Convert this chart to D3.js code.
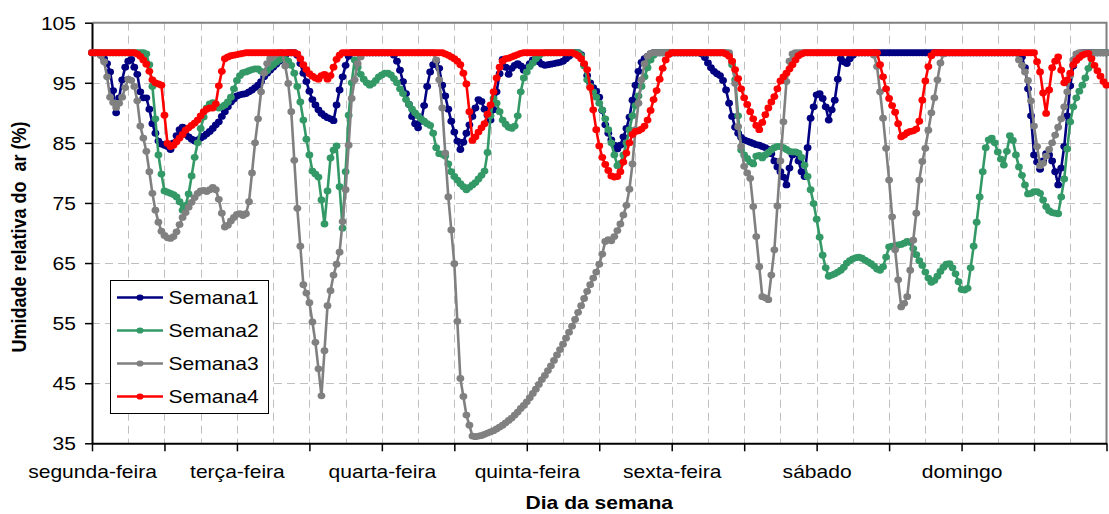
<!DOCTYPE html>
<html>
<head>
<meta charset="utf-8">
<script src="https://cdn.jsdelivr.net/npm/d3@7"></script>
<style>
  html, body { margin: 0; padding: 0; background: #ffffff; }
  svg { display: block; }
</style>
</head>
<body>
<svg id="chart" width="1109" height="514"></svg>
<script>
// Day labels (one every 48 half-hour readings) and value ticks
const days = ["segunda-feira", "terça-feira", "quarta-feira", "quinta-feira", "sexta-feira", "sábado", "domingo"];
const yTicks = [35, 45, 55, 65, 75, 85, 95, 105];
const seriesNames = ["Semana1", "Semana2", "Semana3", "Semana4"];
const seriesColors = ["#000080", "#339966", "#808080", "#ff0000"];
const yTitle = "Umidade relativa do  ar (%)";
const xTitle = "Dia da semana";

// Relative humidity (%), half-hourly readings Monday 00:00 .. next Monday 00:00
const semana1 = [
  100, 100, 100, 99.6, 99, 98.2, 96.8, 93.7, 90, 92.5, 95.5, 97.6,
  98.6, 98.9, 97.6, 96.4, 93.5, 92.5, 92.5, 90.6, 88.2, 86.6, 85.3, 84.8,
  84.6, 84.4, 83.9, 85, 86.2, 87.2, 87.6, 86.4, 86, 85.6, 85.3, 85.5,
  85.8, 86.1, 86.5, 86.9, 87.4, 88, 88.5, 89.4, 90.2, 91, 91.8, 92.3,
  92.8, 93, 93.1, 93.2, 93.5, 93.8, 94.2, 94.6, 95.2, 96, 96.6, 97.1,
  97.6, 98.1, 98.6, 99, 99.6, 100, 100, 100, 99.6, 98.2, 96.6, 95.2,
  93.6, 92.2, 91.3, 90.5, 89.9, 89.5, 89.2, 89, 88.7, 91.3, 93.8, 96,
  97.9, 99.4, 100, 100, 100, 100, 100, 100, 100, 100, 100, 100,
  100, 100, 100, 100, 99.6, 98.6, 97.1, 95.2, 93.2, 91.4, 89.4, 88.2,
  87.5, 88.6, 91.2, 94.4, 96.8, 98, 98.6, 97.4, 94.6, 92.8, 90.6, 88.6,
  86.8, 85.3, 83.9, 85.1, 86.6, 88, 89.4, 90.8, 92.2, 91.9, 90.6, 89.6,
  88.8, 90.5, 93.5, 96.5, 98.9, 97.6, 96.4, 97.4, 97.9, 98.2, 97.8, 97.1,
  97.5, 98.2, 98.8, 98.8, 98.5, 98.1, 97.9, 98, 98.1, 98.2, 98.3, 98.4,
  98.6, 99, 99.4, 99.8, 100, 100, 99.7, 98, 96.2, 95, 94.2, 93.6,
  92.6, 90.4, 88, 86.6, 85.5, 84.6, 84, 84.6, 86, 87.4, 89.3, 92.1,
  94.6, 96.9, 98.4, 99, 99.4, 99.8, 100, 100, 100, 100, 100, 100,
  100, 100, 100, 100, 100, 100, 100, 100, 100, 100, 99.8, 99.2,
  98.3, 97.5, 96.9, 96.5, 96.2, 95.4, 93.8, 91.6, 89.4, 87.6, 86.6, 85.9,
  85.5, 85.3, 85.1, 84.9, 84.7, 84.6, 84.4, 84.2, 83.9, 83.2, 82, 81,
  80.2, 79.3, 78, 80.8, 83, 83.4, 82, 80.2, 79.4, 84.2, 89.1, 91,
  93, 93.2, 92.4, 91, 88.8, 90.5, 92.1, 95.6, 99, 98.5, 98.2, 99,
  99.6, 100, 100, 100, 100, 100, 100, 100, 100, 100, 100, 100,
  100, 100, 100, 100, 100, 100, 100, 100, 100, 100, 100, 100,
  100, 100, 100, 100, 100, 100, 100, 100, 100, 100, 100, 100,
  100, 100, 100, 100, 100, 100, 100, 100, 100, 100, 100, 100,
  100, 100, 100, 100, 100, 100, 100, 100, 99.3, 97.5, 94, 89.5,
  83, 81.8, 80.6, 82, 83.2, 83, 82, 80.2, 78, 80.8, 84.4, 89.5,
  94.5, 97.8, 99.2, 99.8, 100, 100, 100, 100, 100, 100, 100, 100, 100
];

const semana2 = [
  100, 100, 100, 100, 100, 100, 100, 100, 100, 100, 100, 100,
  100, 100, 100, 100, 100, 100, 99.8, 98, 94.4, 89, 83, 79.8,
  77, 76.8, 76.6, 76.4, 76, 75.2, 73.8, 74.6, 76.5, 79.5, 82.6, 85,
  87.4, 89.3, 90.8, 91.5, 91.7, 91.2, 90.8, 91, 91.3, 91.8, 92.6, 94,
  95.4, 96.2, 96.7, 96.8, 97, 97.2, 97.3, 97.3, 96.9, 96.7, 97, 97.6,
  98, 98.4, 98.8, 99, 98.9, 98.6, 97.9, 96.6, 94.4, 91.8, 88.8, 85.6,
  83, 80.3, 79.8, 79.3, 75.5, 71.5, 77, 82.5, 83.8, 84.5, 77.7, 70.8,
  80.2, 89.6, 95, 98.8, 97.6, 96.4, 95.6, 95, 94.6, 94.9, 95.4, 96,
  96.3, 96.6, 96.6, 96.3, 95.7, 95, 94, 93.2, 92.2, 91.4, 90.6, 90,
  89.5, 89, 88.6, 88.2, 87.9, 86.6, 84.2, 83.2, 83.1, 82.8, 81.5, 80.2,
  79.4, 78.8, 78.2, 77.7, 77.2, 77.6, 78, 78.4, 79, 79.6, 80.3, 83.4,
  89.5, 92.4, 91.6, 90.2, 88.8, 88.1, 87.6, 87.4, 87.8, 89.5, 93.5, 95.8,
  96.8, 97.7, 98.3, 99, 99.5, 99.9, 100, 100, 100, 100, 100, 100,
  100, 100, 100, 100, 100, 100, 99.5, 97.8, 95.5, 94.4, 93.5, 92.6,
  91.6, 90.5, 89, 87.2, 85, 83, 81.2, 81.6, 83, 85, 87.2, 89.5,
  91.2, 92.8, 94.4, 96, 97.5, 98.8, 99.6, 100, 100, 100, 100, 100,
  100, 100, 100, 100, 100, 100, 100, 100, 100, 100, 100, 100,
  100, 100, 100, 100, 100, 100, 100, 99.6, 98, 95.5, 89.5, 83.8,
  83, 82.4, 81.8, 81.5, 82.8, 82.9, 82.5, 83, 83.4, 83.8, 84.2, 84.4,
  84.4, 84.2, 83.9, 83.6, 83.5, 83.5, 83.3, 82.6, 81.3, 79.4, 77.2, 74.9,
  72.3, 69.3, 66.3, 64.2, 62.8, 63, 63.2, 63.5, 63.8, 64.3, 65, 65.4,
  65.7, 65.9, 66, 65.8, 65.5, 65.2, 64.9, 64.5, 64, 63.8, 64.4, 66,
  67.7, 67.8, 67.9, 68, 68.1, 68.3, 68.6, 68.4, 67.4, 66.4, 65.4, 64.6,
  63.5, 62.5, 61.8, 62.1, 62.8, 63.6, 64.3, 64.8, 64.9, 64.2, 63.2, 61.9,
  60.6, 60.5, 60.8, 64.2, 67.8, 71.8, 76, 80.2, 84.2, 85.5, 85.8, 85,
  83.5, 82.3, 81.3, 83.6, 86.2, 85.4, 83, 81, 79.6, 78, 76.5, 76.6,
  76.9, 76.9, 76.6, 75.5, 74.4, 73.7, 73.4, 73.3, 73.2, 76, 79, 84,
  88.5, 91, 92.5, 93.6, 94.6, 95.8, 97.4, 99.2, 100, 100, 100, 100, 100
];

const semana3 = [
  100, 100, 100, 99.5, 98.5, 96, 92.6, 91.7, 90.9, 91.6, 92.6, 94.2,
  95.6, 95.4, 94.4, 92, 87.8, 85.8, 83.6, 80.2, 76.6, 73.8, 71.8, 70.3,
  69.6, 69.2, 69.1, 69.4, 70.2, 71.4, 72.6, 73.4, 74.3, 75.1, 75.9, 76.6,
  77, 77.1, 76.9, 77.2, 77.6, 77.2, 75.6, 73.3, 71, 71.3, 72, 72.6,
  73.1, 73.2, 72.9, 73.2, 75.2, 80, 85, 89, 93.5, 96.6, 98.2, 99,
  99.4, 99.7, 100, 100, 97.8, 94.9, 90.2, 82.1, 74.1, 67.8, 61.4, 60,
  58.4, 55.2, 51.8, 47.4, 42.9, 50.4, 57.9, 60.4, 63, 64.8, 66.8, 71.9,
  77.2, 84.6, 92.4, 95.5, 98.2, 99.3, 100, 100, 100, 100, 100, 100,
  100, 100, 100, 100, 100, 100, 100, 100, 100, 100, 100, 100,
  100, 100, 100, 100, 100, 100, 98.8, 95.5, 90.8, 83.3, 76, 70.5,
  64.9, 55.3, 45.8, 42.8, 39.7, 38, 36.2, 36.1, 36.2, 36.3, 36.5, 36.7,
  36.9, 37.1, 37.4, 37.7, 38, 38.4, 38.8, 39.2, 39.7, 40.2, 40.8, 41.3,
  41.9, 42.6, 43.3, 44, 44.8, 45.6, 46.3, 47.1, 47.9, 48.8, 49.7, 50.6,
  51.5, 52.5, 53.5, 54.5, 55.6, 56.8, 57.9, 59.1, 60.3, 61.4, 62.5, 63.5,
  64.8, 66.5, 68.6, 68.9, 68.7, 69.4, 70.4, 71.5, 73, 74.6, 77.3, 81.5,
  87.2, 91.6, 95.5, 98.2, 99.4, 99.9, 100, 100, 100, 100, 100, 100,
  100, 100, 100, 100, 100, 100, 100, 100, 100, 100, 100, 100,
  100, 100, 100, 100, 100, 100, 100, 100, 98.5, 94.9, 87.7, 84.4,
  81.1, 80, 79.1, 74.4, 69.4, 64.4, 59.4, 59.2, 58.9, 63, 67.2, 74.5,
  82, 88.5, 95.2, 98.6, 99.8, 100, 100, 100, 100, 100, 100, 100,
  100, 100, 100, 100, 100, 100, 100, 100, 100, 100, 100, 100,
  100, 100, 100, 100, 100, 100, 100, 99.6, 97.7, 93.5, 89.1, 84.1,
  78.8, 72.7, 67.2, 62.2, 57.7, 58.3, 59.4, 63.8, 68.8, 73.3, 78.8, 81.9,
  84.1, 87.1, 90, 92.5, 95.5, 98.3, 99.8, 100, 100, 100, 100, 100,
  100, 100, 100, 100, 100, 100, 100, 100, 100, 100, 100, 100,
  100, 100, 100, 100, 100, 100, 100, 98.8, 97.9, 96.8, 95.4, 92,
  87.8, 84.4, 81.2, 81.6, 82.8, 83.9, 85, 86.3, 87.6, 89, 91, 93.5,
  96.2, 98.8, 99.8, 100, 100, 100, 100, 100, 100, 100, 100, 100, 100
];

const semana4 = [
  100, 100, 100, 100, 100, 100, 100, 100, 100, 100, 100, 100,
  100, 100, 100, 99.8, 99.4, 98.8, 98.1, 96.9, 95.5, 95, 94.8, 94.6,
  89.6, 84.9, 84.4, 84.6, 85.2, 85.8, 86.4, 87.1, 87.5, 87.9, 88.3, 88.8,
  89.5, 90.2, 90.6, 90.8, 90.8, 91.5, 94.5, 96.9, 99, 99.3, 99.5, 99.6,
  99.7, 99.8, 99.9, 100, 100, 100, 100, 100, 100, 100, 100, 100,
  100, 100, 100, 100, 100, 100, 100, 100, 99.8, 99, 98, 97.2,
  96.5, 96.1, 95.8, 95.6, 96.2, 96.4, 95.6, 96.2, 97.6, 98.9, 99.6, 100,
  100, 100, 100, 100, 100, 100, 100, 100, 100, 100, 100, 100,
  100, 100, 100, 100, 100, 100, 100, 100, 100, 100, 100, 100,
  100, 100, 100, 100, 100, 100, 100, 100, 100, 99.8, 99.6, 99.3,
  99, 98.6, 98, 96.6, 94.8, 90.2, 85.4, 86, 86.8, 87.5, 88.2, 89.8,
  91.3, 93.5, 95.8, 97.6, 98.6, 99, 99.1, 99.3, 99.5, 99.7, 99.9, 100,
  100, 100, 100, 100, 100, 100, 100, 100, 100, 100, 100, 100,
  100, 100, 100, 100, 99.8, 99.5, 99, 98.2, 97.2, 94.2, 90.5, 87.2,
  84.5, 82.6, 81.4, 80.4, 79.5, 79.3, 79.4, 80.2, 81.8, 83.3, 85, 86.4,
  86.9, 87, 87.3, 87.8, 88.8, 90.4, 92.2, 93.7, 95.6, 97.4, 98.8, 99.7,
  100, 100, 100, 100, 100, 100, 100, 100, 100, 100, 100, 100,
  100, 100, 100, 100, 100, 100, 99.8, 99.4, 98.6, 97.2, 95.7, 94,
  92.5, 91.4, 90.2, 89, 87.9, 87.2, 88.4, 89.7, 90.8, 91.8, 92.7, 94,
  95.3, 96, 96.6, 97.3, 98, 98.8, 99.5, 99.8, 100, 100, 100, 100,
  100, 100, 100, 100, 100, 100, 100, 100, 100, 100, 100, 100,
  100, 100, 100, 100, 100, 100, 100, 100, 100, 98, 96, 94,
  92.4, 91.2, 90.1, 88.2, 86, 86.3, 86.7, 86.9, 87, 87.3, 88.6, 92.1,
  95.3, 97.7, 99.5, 100, 100, 100, 100, 100, 100, 100, 100, 100,
  100, 100, 100, 100, 100, 100, 100, 100, 100, 100, 100, 100,
  100, 100, 100, 100, 100, 100, 100, 100, 100, 100, 100, 100,
  100, 98.5, 96.8, 93.3, 89.9, 93.8, 97.5, 98.6, 99.3, 97.1, 95, 95.5,
  96.6, 98, 98.7, 99.2, 99.6, 99.8, 99.9, 99, 97.9, 97, 96.1, 95.2, 94.6
];

const seriesValues = [semana1, semana2, semana3, semana4];

// ---- layout ----
const plot = { left: 92, right: 1106.5, top: 22.7, bottom: 443.3 };
const FONT = "'Liberation Sans', Arial, Helvetica, sans-serif";
const FS = 18;      // text size
const SX = 1.17;    // horizontal widening of the lettering

const x = d3.scaleLinear().domain([0, 336]).range([plot.left, plot.right]);
const y = d3.scaleLinear().domain([35, 105]).range([plot.bottom, plot.top]);

const svg = d3.select("#chart");
svg.append("rect").attr("width", 1109).attr("height", 514).attr("fill", "#ffffff");

// ---- gridlines ----
const grid = svg.append("g").attr("stroke", "#c0c0c0").attr("stroke-width", 1)
  .attr("stroke-dasharray", "8,5").attr("fill", "none");
yTicks.filter(v => v > 35 && v < 105).forEach(v => {
  grid.append("line").attr("x1", plot.left).attr("x2", plot.right)
    .attr("y1", Math.round(y(v)) + 0.5).attr("y2", Math.round(y(v)) + 0.5);
});
d3.range(12, 336, 12).forEach(i => {
  grid.append("line").attr("y1", plot.top).attr("y2", plot.bottom)
    .attr("x1", Math.round(x(i)) + 0.5).attr("x2", Math.round(x(i)) + 0.5);
});

// plot frame (top and right edges)
svg.append("path")
  .attr("d", `M${plot.left},${plot.top}H${plot.right}V${plot.bottom}`)
  .attr("fill", "none").attr("stroke", "#808080").attr("stroke-width", 2);

// ---- axes ----
const yAxis = svg.append("g").attr("transform", `translate(${plot.left},0)`)
  .call(d3.axisLeft(y).tickValues(yTicks).tickSize(7).tickSizeOuter(0).tickFormat(d3.format("d")));
yAxis.select(".domain").attr("stroke", "#000").attr("stroke-width", 2);
yAxis.selectAll(".tick line").attr("stroke", "#000").attr("stroke-width", 1.5);
yAxis.selectAll(".tick text")
  .attr("x", -16 / SX).attr("dy", null).attr("y", 6.4)
  .attr("transform", `scale(${SX},1)`)
  .attr("font-family", FONT).attr("font-size", FS).attr("fill", "#000");

const xAxis = svg.append("g").attr("transform", `translate(0,${plot.bottom})`)
  .call(d3.axisBottom(x).tickValues(d3.range(0, 337, 24)).tickSize(8).tickSizeOuter(0)
    .tickFormat(d => (d % 48 === 0 && d / 48 < days.length) ? days[d / 48] : ""));
xAxis.select(".domain").attr("stroke", "#000").attr("stroke-width", 2);
xAxis.selectAll(".tick line").attr("stroke", "#000").attr("stroke-width", 1.5);
xAxis.selectAll(".tick text")
  .attr("y", 478 - plot.bottom).attr("dy", null)
  .attr("transform", `scale(${SX},1)`)
  .attr("font-family", FONT).attr("font-size", FS).attr("fill", "#000");

// axis titles
svg.append("text")
  .attr("transform", `translate(${(plot.left + plot.right) / 2},509) scale(${SX},1)`)
  .attr("text-anchor", "middle").attr("font-family", FONT).attr("font-size", FS)
  .attr("font-weight", "bold").text(xTitle);
svg.append("text")
  .attr("transform", `translate(18,237) scale(${SX},1) rotate(-90)`)
  .attr("text-anchor", "middle").attr("dominant-baseline", "central")
  .attr("xml:space", "preserve").style("white-space", "pre")
  .attr("font-family", FONT).attr("font-size", FS)
  .attr("font-weight", "bold").text(yTitle);

// ---- series: line with round markers ----
const line = d3.line().x((d, i) => x(i)).y(d => y(d));
seriesValues.forEach((vals, k) => {
  const g = svg.append("g").attr("class", "series");
  g.append("path").datum(vals).attr("d", line)
    .attr("fill", "none").attr("stroke", seriesColors[k])
    .attr("stroke-width", 2.6).attr("stroke-linejoin", "round");
  g.selectAll("ellipse").data(vals).join("ellipse")
    .attr("cx", (d, i) => x(i)).attr("cy", d => y(d))
    .attr("rx", 3.9).attr("ry", 3.4).attr("fill", seriesColors[k]);
});

// ---- legend ----
const legend = svg.append("g").attr("transform", "translate(110.5,280.5)");
legend.append("rect").attr("width", 158).attr("height", 133)
  .attr("fill", "#ffffff").attr("stroke", "#000").attr("stroke-width", 1);
seriesNames.forEach((name, k) => {
  const cy = 17 + k * 33;
  legend.append("line").attr("x1", 6.5).attr("x2", 52.5).attr("y1", cy).attr("y2", cy)
    .attr("stroke", seriesColors[k]).attr("stroke-width", 2.6);
  legend.append("ellipse").attr("cx", 29.5).attr("cy", cy).attr("rx", 3.6).attr("ry", 3.1)
    .attr("fill", seriesColors[k]);
  legend.append("text")
    .attr("transform", `translate(58,${cy + 6.4}) scale(${SX},1)`)
    .attr("font-family", FONT).attr("font-size", FS).attr("fill", "#000").text(name);
});
</script>
</body>
</html>
